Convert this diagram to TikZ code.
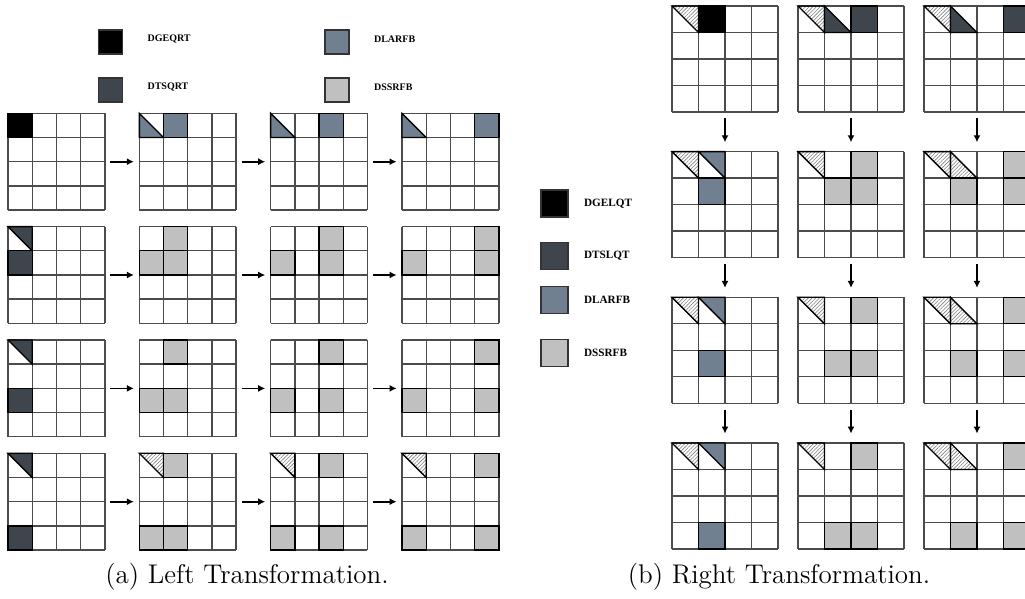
\documentclass[tikz,border=0pt]{standalone}
\usepackage{fontspec}
\newfontfamily\legfont{Liberation Serif}
\usetikzlibrary{positioning,arrows.meta,patterns.meta}

\definecolor{tsgray}{HTML}{3E454C}
\definecolor{lagray}{HTML}{708090}
\definecolor{ssgray}{HTML}{C0C0C0}

\tikzset{
  gridline/.style={draw=black!70, line width=0.7pt},
  cellfill/.style={draw=black, line width=0.7pt},
  geqrt/.style={fill=black},
  tsqrt/.style={fill=tsgray},
  larfb/.style={fill=lagray},
  ssrfb/.style={fill=ssgray},
  hatch/.style={pattern={Lines[angle=45,distance=1.3pt,line width=0.3pt]}, pattern color=gray},
  tilebox/.style={inner sep=0pt, draw=none},
  flow/.style={-{Latex[length=3.5pt,width=3.5pt]}, line width=0.85pt},
  legbox/.style={draw=black!80, line width=0.7pt, inner sep=0pt},
  legtext/.style={font=\legfont\bfseries\fontsize{5}{6}\selectfont, inner sep=0pt},
  captext/.style={font=\fontsize{13.5}{16}\selectfont}
}

% one 4x4 tile: name, top-left corner (x,y), cell size, cells
\newcommand{\tgrid}[5]{%
  \begin{scope}[shift={(#2,#3)}, x=#4, y=-#4]
    \foreach \k in {0,...,4}{
      \draw[gridline] (\k,0) -- (\k,4);
      \draw[gridline] (0,\k) -- (4,\k);
    }
    #5
  \end{scope}
  \path (#2,#3) ++(2*#4,-2*#4) node[tilebox, minimum size=4*#4] (#1) {};
}
% cells: row, column, look
\newcommand{\blk}[3]{\draw[cellfill,#3] (#2-1,#1-1) rectangle (#2,#1);}
\newcommand{\triur}[3]{\draw[cellfill,#3] (#2-1,#1-1) -- (#2,#1-1) -- (#2,#1) -- cycle;}
\newcommand{\trill}[3]{\draw[cellfill,#3] (#2-1,#1-1) -- (#2-1,#1) -- (#2,#1) -- cycle;}

\begin{document}
\begin{tikzpicture}[x=0.5pt, y=-0.5pt]
\useasboundingbox (0,0) rectangle (1025,599);
\clip (0,0) rectangle (1025,599);

% left legend
\node[legbox, fill=black, minimum size=12pt] (kGEQRT) at (110.5,42) {};
\node[legbox, fill=tsgray, minimum size=12pt] (kTSQRT) at (110.5,90) {};
\node[legbox, fill=lagray, minimum size=12pt] (kLARFB) at (337,42) {};
\node[legbox, fill=ssgray, minimum size=12pt] (kSSRFB) at (337,90) {};
\node[legtext, right=12pt of kGEQRT, yshift=1.5pt] (tGEQRT) {DGEQRT};
\node[legtext, right=12pt of kTSQRT, yshift=1.5pt] (tTSQRT) {DTSQRT};
\node[legtext, right=12pt of kLARFB, yshift=1.5pt] (tLARFB) {DLARFB};
\node[legtext, right=12pt of kSSRFB, yshift=1.5pt] (tSSRFB) {DSSRFB};

% left transformation
\tgrid{L11}{8}{113.3}{12.1pt}{\blk{1}{1}{geqrt}}
\tgrid{L12}{139.3}{113.3}{12.1pt}{\trill{1}{1}{larfb}\blk{1}{2}{larfb}}
\tgrid{L13}{270.6}{113.3}{12.1pt}{\trill{1}{1}{larfb}\blk{1}{3}{larfb}}
\tgrid{L14}{402}{113.3}{12.1pt}{\trill{1}{1}{larfb}\blk{1}{4}{larfb}}

\tgrid{L21}{8}{226.6}{12.1pt}{\triur{1}{1}{tsqrt}\blk{2}{1}{tsqrt}}
\tgrid{L22}{139.3}{226.6}{12.1pt}{\blk{1}{2}{ssrfb}\blk{2}{1}{ssrfb}\blk{2}{2}{ssrfb}}
\tgrid{L23}{270.6}{226.6}{12.1pt}{\blk{1}{3}{ssrfb}\blk{2}{1}{ssrfb}\blk{2}{3}{ssrfb}}
\tgrid{L24}{402}{226.6}{12.1pt}{\blk{1}{4}{ssrfb}\blk{2}{1}{ssrfb}\blk{2}{4}{ssrfb}}

\tgrid{L31}{8}{340}{12.1pt}{\triur{1}{1}{tsqrt}\blk{3}{1}{tsqrt}}
\tgrid{L32}{139.3}{340}{12.1pt}{\blk{1}{2}{ssrfb}\blk{3}{1}{ssrfb}\blk{3}{2}{ssrfb}}
\tgrid{L33}{270.6}{340}{12.1pt}{\blk{1}{3}{ssrfb}\blk{3}{1}{ssrfb}\blk{3}{3}{ssrfb}}
\tgrid{L34}{402}{340}{12.1pt}{\blk{1}{4}{ssrfb}\blk{3}{1}{ssrfb}\blk{3}{4}{ssrfb}}

\tgrid{L41}{8}{453.3}{12.1pt}{\triur{1}{1}{tsqrt}\blk{4}{1}{tsqrt}}
\tgrid{L42}{139.3}{453.3}{12.1pt}{\triur{1}{1}{hatch}\blk{1}{2}{ssrfb}\blk{4}{1}{ssrfb}\blk{4}{2}{ssrfb}}
\tgrid{L43}{270.6}{453.3}{12.1pt}{\triur{1}{1}{hatch}\blk{1}{3}{ssrfb}\blk{4}{1}{ssrfb}\blk{4}{3}{ssrfb}}
\tgrid{L44}{402}{453.3}{12.1pt}{\triur{1}{1}{hatch}\blk{1}{4}{ssrfb}\blk{4}{1}{ssrfb}\blk{4}{4}{ssrfb}}

\foreach \r in {1,...,4}{
  \draw[flow, shorten <=2.5pt, shorten >=2.5pt] (L\r1.east) -- (L\r2.west);
  \draw[flow, shorten <=2.5pt, shorten >=2.5pt] (L\r2.east) -- (L\r3.west);
  \draw[flow, shorten <=2.5pt, shorten >=2.5pt] (L\r3.east) -- (L\r4.west);
}

% right legend
\node[legbox, fill=black, minimum size=13.5pt] (kGELQT) at (554.5,203.5) {};
\node[legbox, fill=tsgray, minimum size=13.5pt] (kTSLQT) at (554.5,256) {};
\node[legbox, fill=lagray, minimum size=13.5pt] (kLARFBr) at (554.5,300) {};
\node[legbox, fill=ssgray, minimum size=13.5pt] (kSSRFBr) at (554.5,353) {};
\node[legtext, font=\legfont\bfseries\fontsize{5.6}{6}\selectfont, right=7.5pt of kGELQT] (tGELQT) {DGELQT};
\node[legtext, font=\legfont\bfseries\fontsize{5.6}{6}\selectfont, right=7.5pt of kTSLQT] (tTSLQT) {DTSLQT};
\node[legtext, font=\legfont\bfseries\fontsize{5.6}{6}\selectfont, right=7.5pt of kLARFBr] (tLARFBr) {DLARFB};
\node[legtext, font=\legfont\bfseries\fontsize{5.6}{6}\selectfont, right=7.5pt of kSSRFBr] (tSSRFBr) {DSSRFB};

% right transformation
\tgrid{R11}{672}{6}{13.25pt}{\triur{1}{1}{hatch}\blk{1}{2}{geqrt}}
\tgrid{R12}{798}{6}{13.25pt}{\triur{1}{1}{hatch}\trill{1}{2}{tsqrt}\blk{1}{3}{tsqrt}}
\tgrid{R13}{924}{6}{13.25pt}{\triur{1}{1}{hatch}\trill{1}{2}{tsqrt}\blk{1}{4}{tsqrt}}

\tgrid{R21}{672}{151.7}{13.25pt}{\triur{1}{1}{hatch}\triur{1}{2}{larfb}\blk{2}{2}{larfb}}
\tgrid{R22}{798}{151.7}{13.25pt}{\triur{1}{1}{hatch}\blk{1}{3}{ssrfb}\blk{2}{2}{ssrfb}\blk{2}{3}{ssrfb}}
\tgrid{R23}{924}{151.7}{13.25pt}{\triur{1}{1}{hatch}\trill{1}{2}{hatch}\blk{1}{4}{ssrfb}\blk{2}{2}{ssrfb}\blk{2}{4}{ssrfb}}

\tgrid{R31}{672}{297.3}{13.25pt}{\triur{1}{1}{hatch}\triur{1}{2}{larfb}\blk{3}{2}{larfb}}
\tgrid{R32}{798}{297.3}{13.25pt}{\triur{1}{1}{hatch}\blk{1}{3}{ssrfb}\blk{3}{2}{ssrfb}\blk{3}{3}{ssrfb}}
\tgrid{R33}{924}{297.3}{13.25pt}{\triur{1}{1}{hatch}\trill{1}{2}{hatch}\blk{1}{4}{ssrfb}\blk{3}{2}{ssrfb}\blk{3}{4}{ssrfb}}

\tgrid{R41}{672}{443}{13.25pt}{\triur{1}{1}{hatch}\triur{1}{2}{larfb}\blk{4}{2}{larfb}}
\tgrid{R42}{798}{443}{13.25pt}{\triur{1}{1}{hatch}\blk{1}{3}{ssrfb}\blk{4}{2}{ssrfb}\blk{4}{3}{ssrfb}}
\tgrid{R43}{924}{443}{13.25pt}{\triur{1}{1}{hatch}\trill{1}{2}{hatch}\blk{1}{4}{ssrfb}\blk{4}{2}{ssrfb}\blk{4}{4}{ssrfb}}

\foreach \c in {1,2,3}{
  \draw[flow, shorten <=3pt, shorten >=4.5pt] (R1\c.south) -- (R2\c.north);
  \draw[flow, shorten <=3pt, shorten >=4.5pt] (R2\c.south) -- (R3\c.north);
  \draw[flow, shorten <=3pt, shorten >=4.5pt] (R3\c.south) -- (R4\c.north);
}

% captions
\node[captext] (capA) at (247,577) {(a) Left Transformation.};
\node[captext] (capB) at (779,577) {(b) Right Transformation.};
\end{tikzpicture}
\end{document}
